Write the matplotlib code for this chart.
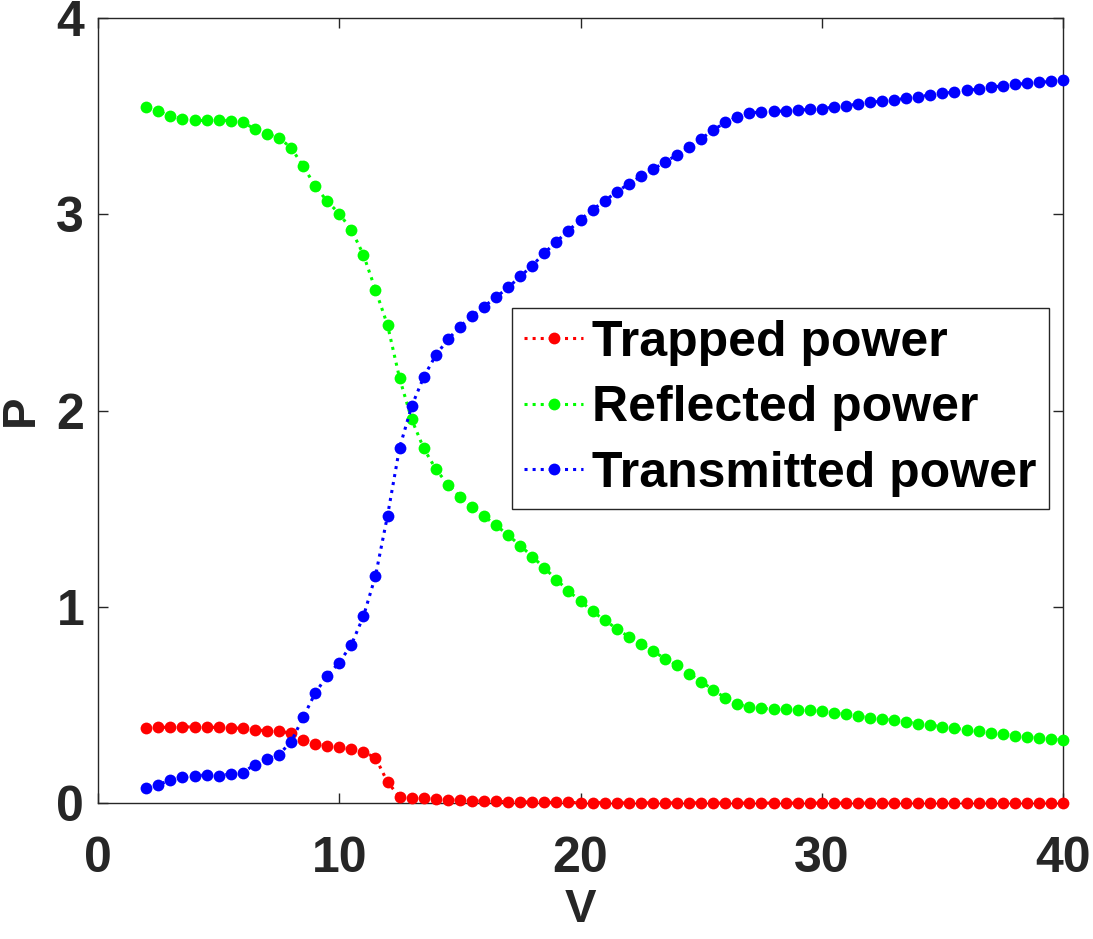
import numpy as np
import matplotlib.pyplot as plt

# V values (step 0.5 from 2 to 40)
V = [2.0, 2.5, 3.0, 3.5, 4.0, 4.5, 5.0, 5.5, 6.0, 6.5,
     7.0, 7.5, 8.0, 8.5, 9.0, 9.5, 10.0, 10.5, 11.0, 11.5,
     12.0, 12.5, 13.0, 13.5, 14.0, 14.5, 15.0, 15.5, 16.0, 16.5,
     17.0, 17.5, 18.0, 18.5, 19.0, 19.5, 20.0, 20.5, 21.0, 21.5,
     22.0, 22.5, 23.0, 23.5, 24.0, 24.5, 25.0, 25.5, 26.0, 26.5,
     27.0, 27.5, 28.0, 28.5, 29.0, 29.5, 30.0, 30.5, 31.0, 31.5,
     32.0, 32.5, 33.0, 33.5, 34.0, 34.5, 35.0, 35.5, 36.0, 36.5,
     37.0, 37.5, 38.0, 38.5, 39.0, 39.5, 40.0]

trapped = [0.384, 0.385, 0.387, 0.389, 0.387, 0.387, 0.385, 0.384, 0.380, 0.372,
           0.369, 0.367, 0.355, 0.321, 0.303, 0.291, 0.284, 0.275, 0.260, 0.231,
           0.107, 0.031, 0.027, 0.025, 0.021, 0.018, 0.015, 0.012, 0.010, 0.008,
           0.007, 0.006, 0.005, 0.004, 0.003, 0.003, 0.002, 0.002, 0.002, 0.001,
           0.001, 0.001, 0.001, 0.001, 0.001, 0.001, 0.001, 0.0, 0.0, 0.0,
           0.0, 0.0, 0.0, 0.0, 0.0, 0.0, 0.0, 0.0, 0.0, 0.0,
           0.0, 0.0, 0.0, 0.0, 0.0, 0.0, 0.0, 0.0, 0.0, 0.0,
           0.0, 0.0, 0.0, 0.0, 0.0, 0.0, 0.0]

reflected = [3.547, 3.526, 3.502, 3.485, 3.478, 3.478, 3.480, 3.477, 3.470, 3.434,
             3.409, 3.390, 3.339, 3.246, 3.144, 3.066, 3.003, 2.921, 2.794, 2.615,
             2.435, 2.164, 1.955, 1.807, 1.702, 1.622, 1.561, 1.509, 1.462, 1.415,
             1.365, 1.312, 1.256, 1.198, 1.139, 1.080, 1.029, 0.976, 0.932, 0.888,
             0.847, 0.811, 0.774, 0.736, 0.701, 0.660, 0.619, 0.577, 0.535, 0.504,
             0.488, 0.482, 0.479, 0.477, 0.475, 0.472, 0.467, 0.459, 0.452, 0.443,
             0.434, 0.428, 0.421, 0.413, 0.404, 0.397, 0.389, 0.380, 0.374, 0.365,
             0.358, 0.351, 0.344, 0.338, 0.332, 0.327, 0.320]

transmitted = [0.076, 0.093, 0.117, 0.132, 0.139, 0.143, 0.138, 0.149, 0.155, 0.196,
               0.225, 0.247, 0.312, 0.436, 0.560, 0.649, 0.716, 0.807, 0.951, 1.157,
               1.465, 1.811, 2.022, 2.171, 2.282, 2.362, 2.428, 2.481, 2.530, 2.578,
               2.627, 2.683, 2.739, 2.802, 2.861, 2.917, 2.973, 3.023, 3.070, 3.113,
               3.156, 3.193, 3.229, 3.266, 3.303, 3.343, 3.385, 3.429, 3.468, 3.497,
               3.516, 3.522, 3.524, 3.527, 3.531, 3.534, 3.539, 3.546, 3.553, 3.562,
               3.570, 3.577, 3.584, 3.590, 3.599, 3.608, 3.616, 3.623, 3.631, 3.638,
               3.647, 3.655, 3.662, 3.667, 3.672, 3.677, 3.685]

labels = ['Trapped power', 'Reflected power', 'Transmitted power']
colors = ['#ff0000', '#00ff00', '#0000ff']

plt.rcParams['font.family'] = ['Liberation Sans', 'DejaVu Sans']
plt.rcParams['font.weight'] = 'bold'

fig = plt.figure(figsize=(10.93, 9.39), dpi=100)
ax = fig.add_axes([0.0897, 0.1448, 0.8829, 0.836])

for y, c, lab in zip([trapped, reflected, transmitted], colors, labels):
    ax.plot(V, y, linestyle=':', color=c, linewidth=2.2, marker='o',
            markersize=8.5, markeredgewidth=0, label=lab, clip_on=False, zorder=3)

ax.set_xlim(0, 40)
ax.set_ylim(0, 4)
ax.set_xticks([0, 10, 20, 30, 40])
ax.set_yticks([0, 1, 2, 3, 4])
ax.tick_params(direction='in', length=7, width=1, top=True, right=True,
               labelsize=36, color='#262626')
ax.tick_params(axis='x', pad=24)
ax.tick_params(axis='y', pad=10)
for lbl in ax.get_xticklabels() + ax.get_yticklabels():
    lbl.set_fontweight('bold')
    lbl.set_color('#262626')
for s in ax.spines.values():
    s.set_color('#262626')
    s.set_linewidth(1)

ax.set_xlabel('V', fontsize=34, fontweight='bold', color='#262626', labelpad=4)
ax.set_ylabel('P', fontsize=34, fontweight='bold', color='#262626', labelpad=10)

leg = ax.legend(loc='upper left', bbox_to_anchor=(0.429, 0.631), fontsize=36,
                handlelength=1.18, handletextpad=0.18, borderpad=0.24,
                labelspacing=0.39, fancybox=False, framealpha=1,
                edgecolor='#262626', borderaxespad=0)
leg.get_frame().set_linewidth(1)
for t in leg.get_texts():
    t.set_fontweight('bold')

fig.savefig('out.png', dpi=100)
